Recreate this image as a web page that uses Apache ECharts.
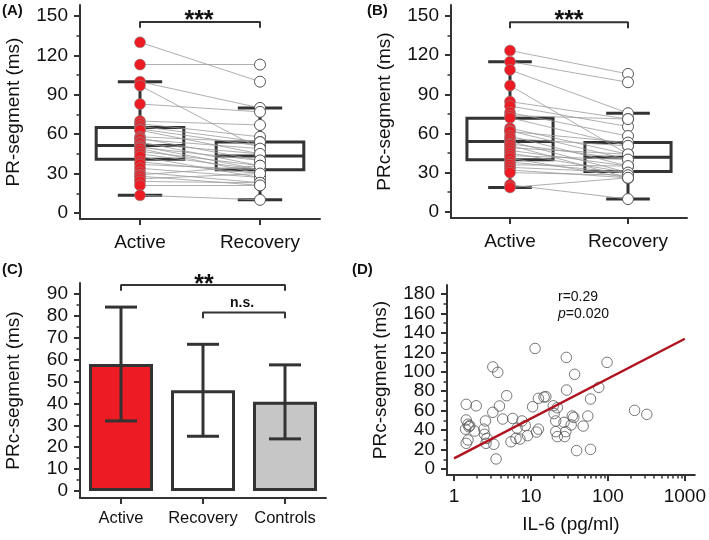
<!DOCTYPE html>
<html><head><meta charset="utf-8">
<script src="https://cdn.jsdelivr.net/npm/echarts@6/dist/echarts.min.js"></script>
<style>html,body{margin:0;padding:0;background:#fff}#c{width:709px;height:540px}</style>
</head><body><div id="c"></div>
<script>
// ---------- DATA ----------
const boxCats = ['Active', 'Recovery'];
// Panel A: paired PR-segment values [Active, Recovery]
const pairsA = [[130,100],[113,113],[100,80],[97,49],[83,77],[70,67],[68,58],[66,54],[64,51],[63,45],[58,54],[57,40],[56,49],[54,36],[53,45],[51,33],[50,40],[49,30],[47,36],[45,33],[43,27],[39,30],[37,33],[34,27],[31,23],[29,36],[28,21],[26,30],[24,23],[21,21],[13.5,10]];
// box stats [min, q1, median, q3, max]
const boxStatsA = [[13.5,41,51.3,65,100],[10,33,43.4,54,80]];
// Panel B: paired PRc-segment values
const pairsB = [[123.5,105.6],[115,99.2],[108.7,75.5],[96.7,44],[84.4,71],[81,65.3],[76,58],[73.7,71],[72,50.5],[64,44],[62,40],[61.5,53],[58,35],[56,50.5],[54,30],[52,40],[51,26],[49,44],[47,35],[45,30],[43,40],[41,26],[38,30],[36,35],[34,30],[32,26],[30,28],[20.6,9.7],[18.6,26]];
const boxStatsB = [[18.6,39.8,53.8,71.7,115],[9.7,30.9,41.8,53,75.5]];
// Panel C
const barCats = ['Active', 'Recovery', 'Controls'];
const barMeans = [58, 46, 40.8];
const barLow = [32, 25, 23.8];
const barHigh = [84, 67, 57.6];
// Panel D: [IL-6, PRc]
const il6Points = [[1.44,66.5],[1.94,65],[1.44,50.4],[1.52,46],[1.56,43.5],[1.41,41],[1.85,39],[1.52,29.8],[1.44,26.4],[1.6,44.5],
[2.56,49.4],[2.44,41],[2.49,35.7],[2.67,31.5],[2.6,26.4],[3.29,25.4],[3.52,10.3],[3.19,105],[3.7,99.4],[3.19,58.3],[3.89,64.8],[4.29,51.4],[4.83,75.4],
[5.5,28],[5.78,52],[6.38,31.5],[6.6,42],[7.19,30.8],[7.63,49.4],[8.43,44.6],[9.03,34.3],[10.5,64],[11.3,124],[11.8,38],[12.5,41],[12.5,72.7],[15.6,74.4],[14.8,74],
[19.5,65],[20,57],[21,49.4],[22,63],[21,38.4],[22,33.3],[26.9,48],[27.4,33.3],[28.3,38.4],[28.8,114.8],[29,81.2],[33.3,45.3],[34.4,54.5],[36,53],[36.9,97.4],[39.2,18.9],[47.7,44.2],[54.8,54.5],[59.4,72],[59.4,20.2],[76,84],[97.5,109.7],[222,60.3],[320,56.2]];
const regLine = [[1, 11], [1000, 134]];
// significance brackets [x0, x1, yTop, yTip]
const bracketA = [0, 1, 145.5, 141];
const bracketB = [0, 1, 145.2, 140.6];
const bracketC1 = [0, 2, 94.1, 91.5];
const bracketC2 = [1, 2, 81.5, 78.9];
// ticks
const ticksAB = [0,30,60,90,120,150];
const minorAB = [15,45,75,105,135];
const ticksC = [0,10,20,30,40,50,60,70,80,90];
const minorC = [5,15,25,35,45,55,65,75,85];
const ticksD = [0,20,40,60,80,100,120,140,160,180];
const minorD = [10,30,50,70,90,110,130,150,170];
const ticksLog = [1,10,100,1000];
const minorLog = [2,3,4,5,6,7,8,9,20,30,40,50,60,70,80,90,200,300,400,500,600,700,800,900];

// ---------- STYLE ----------
const FONT = "'Liberation Sans', Arial, sans-serif";
const DARK = '#333333';
const TXT = '#111111';
const RED = '#ed1c24';
const barColors = [RED, '#ffffff', '#c6c6c6'];

function mainY(grid, min, max, ticks, name, fs) {
  return {
    gridIndex: grid, type: 'value', min: min, max: max, position: 'left',
    name: name, nameLocation: 'middle', nameGap: 57,
    nameTextStyle: {fontSize: 19, color: TXT, fontFamily: FONT},
    axisLine: {show: true, onZero: false, lineStyle: {color: DARK, width: 2}},
    axisTick: {show: true, length: 6, customValues: ticks, lineStyle: {color: DARK, width: 2}},
    axisLabel: {show: true, customValues: ticks, fontSize: fs, color: TXT, fontFamily: FONT, margin: 12},
    splitLine: {show: false}
  };
}
function minorY(grid, min, max, ticks) {
  return {
    gridIndex: grid, type: 'value', min: min, max: max, position: 'left',
    axisLine: {show: false, onZero: false},
    axisTick: {show: true, length: 3.5, customValues: ticks, lineStyle: {color: DARK, width: 1.5}},
    axisLabel: {show: false}, splitLine: {show: false}
  };
}
function catX(grid, cats, fs, margin) {
  return {
    gridIndex: grid, type: 'category', data: cats, boundaryGap: true,
    axisLine: {show: true, onZero: false, lineStyle: {color: DARK, width: 2}},
    axisTick: {show: true, alignWithLabel: true, interval: 0, length: 6, lineStyle: {color: DARK, width: 2}},
    axisLabel: {fontSize: fs, color: TXT, fontFamily: FONT, margin: margin, interval: 0},
    splitLine: {show: false}
  };
}

function boxRender(params, api) {
  const x = api.value(0);
  const band = api.size([1, 0])[0];
  const bw = band * 0.73, cw = band * 0.37;
  const lo = api.coord([x, api.value(1)]);
  const q1 = api.coord([x, api.value(2)]);
  const md = api.coord([x, api.value(3)]);
  const q3 = api.coord([x, api.value(4)]);
  const hi = api.coord([x, api.value(5)]);
  const cx = lo[0];
  const st = {stroke: DARK, lineWidth: 3, fill: null};
  return {type: 'group', children: [
    {type: 'line', shape: {x1: cx, y1: q3[1], x2: cx, y2: hi[1]}, style: st},
    {type: 'line', shape: {x1: cx, y1: q1[1], x2: cx, y2: lo[1]}, style: st},
    {type: 'line', shape: {x1: cx - cw / 2, y1: hi[1], x2: cx + cw / 2, y2: hi[1]}, style: st},
    {type: 'line', shape: {x1: cx - cw / 2, y1: lo[1], x2: cx + cw / 2, y2: lo[1]}, style: st},
    {type: 'rect', shape: {x: cx - bw / 2, y: q3[1], width: bw, height: q1[1] - q3[1]}, style: {stroke: DARK, lineWidth: 3, fill: 'rgba(255,255,255,0)'}},
    {type: 'line', shape: {x1: cx - bw / 2, y1: md[1], x2: cx + bw / 2, y2: md[1]}, style: st}
  ]};
}
function errRender(params, api) {
  const x = api.value(0);
  const band = api.size([1, 0])[0];
  const cw = band * 0.39;
  const lo = api.coord([x, api.value(1)]);
  const hi = api.coord([x, api.value(2)]);
  const cx = lo[0];
  const st = {stroke: DARK, lineWidth: 3};
  return {type: 'group', children: [
    {type: 'line', shape: {x1: cx, y1: lo[1], x2: cx, y2: hi[1]}, style: st},
    {type: 'line', shape: {x1: cx - cw / 2, y1: hi[1], x2: cx + cw / 2, y2: hi[1]}, style: st},
    {type: 'line', shape: {x1: cx - cw / 2, y1: lo[1], x2: cx + cw / 2, y2: lo[1]}, style: st}
  ]};
}
function bracketData(b) {
  return [[b[0], b[3]], [b[0], b[2]], [b[1], b[2]], [b[1], b[3]]];
}
function bracketSeries(xi, yi, b) {
  return {type: 'line', xAxisIndex: xi, yAxisIndex: yi, data: bracketData(b), symbol: 'none',
    lineStyle: {color: DARK, width: 2}, z: 5, silent: true};
}
function pairedSeries(xi, yi, pairs, stats) {
  return [
    {type: 'custom', xAxisIndex: xi, yAxisIndex: yi, renderItem: boxRender,
      data: stats.map((s, i) => [i].concat(s)), encode: {x: 0, y: [1, 2, 3, 4, 5]}, z: 2, silent: true},
    {type: 'lines', coordinateSystem: 'cartesian2d', xAxisIndex: xi, yAxisIndex: yi,
      data: pairs.map(p => ({coords: [[0, p[0]], [1, p[1]]]})),
      lineStyle: {color: '#9a9a9a', width: 0.8, opacity: 1}, z: 3, silent: true},
    {type: 'scatter', xAxisIndex: xi, yAxisIndex: yi, data: pairs.map(p => [0, p[0]]),
      symbolSize: 11, itemStyle: {color: RED, borderColor: '#8a8a8a', borderWidth: 0.6, opacity: 1}, z: 4},
    {type: 'scatter', xAxisIndex: xi, yAxisIndex: yi, data: pairs.map(p => [1, p[1]]),
      symbolSize: 11, itemStyle: {color: '#ffffff', borderColor: '#555555', borderWidth: 1, opacity: 1}, z: 4}
  ];
}

const chart = echarts.init(document.getElementById('c'), null, {renderer: 'canvas'});
const option = {
  animation: false,
  backgroundColor: '#ffffff',
  textStyle: {fontFamily: FONT},
  grid: [
    {left: 80, top: 5, width: 240, height: 214},
    {left: 451, top: 5, width: 236, height: 213},
    {left: 80, top: 283, width: 246, height: 215},
    {left: 447, top: 285, width: 250, height: 190}
  ],
  xAxis: [
    catX(0, boxCats, 19, 14),
    catX(1, boxCats, 19, 14),
    catX(2, barCats, 16.5, 12),
    {gridIndex: 3, type: 'log', logBase: 10, min: 0.81, max: 1346, position: 'bottom',
      name: 'IL-6 (pg/ml)', nameLocation: 'middle', nameGap: 40,
      nameTextStyle: {fontSize: 19, color: TXT, fontFamily: FONT},
      axisLine: {show: true, onZero: false, lineStyle: {color: DARK, width: 2}},
      axisTick: {show: true, length: 6, customValues: ticksLog, lineStyle: {color: DARK, width: 2}},
      axisLabel: {customValues: ticksLog, fontSize: 19, color: TXT, fontFamily: FONT, margin: 12,
        formatter: function (v) { return String(Math.round(v)); }},
      splitLine: {show: false}},
    {gridIndex: 3, type: 'log', logBase: 10, min: 0.81, max: 1346, position: 'bottom',
      axisLine: {show: false, onZero: false},
      axisTick: {show: true, length: 3.5, customValues: minorLog, lineStyle: {color: DARK, width: 1.5}},
      axisLabel: {show: false}, splitLine: {show: false}}
  ],
  yAxis: [
    mainY(0, -4.6, 158.4, ticksAB, 'PR-segment (ms)', 19),
    minorY(0, -4.6, 158.4, minorAB),
    mainY(1, -4.8, 158.4, ticksAB, 'PRc-segment (ms)', 19),
    minorY(1, -4.8, 158.4, minorAB),
    mainY(2, -3.2, 95, ticksC, 'PRc-segment (ms)', 19),
    minorY(2, -3.2, 95, minorC),
    mainY(3, -6.2, 189.3, ticksD, 'PRc-segment (ms)', 19),
    minorY(3, -6.2, 189.3, minorD)
  ],
  series: [].concat(
    pairedSeries(0, 0, pairsA, boxStatsA),
    [bracketSeries(0, 0, bracketA)],
    pairedSeries(1, 2, pairsB, boxStatsB),
    [bracketSeries(1, 2, bracketB)],
    [
      {type: 'bar', xAxisIndex: 2, yAxisIndex: 4, barWidth: 64,
        data: barMeans.map((v, i) => ({value: v, itemStyle: {color: barColors[i]}})),
        itemStyle: {borderColor: DARK, borderWidth: 3}, z: 2},
      {type: 'custom', xAxisIndex: 2, yAxisIndex: 4, renderItem: errRender,
        data: barMeans.map((v, i) => [i, barLow[i], barHigh[i]]), encode: {x: 0, y: [1, 2]}, z: 3, silent: true},
      bracketSeries(2, 4, bracketC1),
      bracketSeries(2, 4, bracketC2),
      {type: 'scatter', xAxisIndex: 3, yAxisIndex: 6, data: il6Points, symbolSize: 10.5,
        itemStyle: {color: 'rgba(255,255,255,0)', borderColor: '#555555', borderWidth: 1}, z: 3},
      {type: 'line', xAxisIndex: 3, yAxisIndex: 6, data: regLine, symbol: 'none',
        lineStyle: {color: '#b01420', width: 2.5}, z: 4, silent: true}
    ]
  ),
  graphic: [
    {type: 'text', left: 2, top: 3, style: {text: '(A)', font: "bold 15px 'Liberation Sans', Arial", fill: TXT}},
    {type: 'text', left: 367, top: 3, style: {text: '(B)', font: "bold 15px 'Liberation Sans', Arial", fill: TXT}},
    {type: 'text', left: 2, top: 262, style: {text: '(C)', font: "bold 15px 'Liberation Sans', Arial", fill: TXT}},
    {type: 'text', left: 352, top: 262, style: {text: '(D)', font: "bold 15px 'Liberation Sans', Arial", fill: TXT}},
    {type: 'text', x: 199, y: 21, style: {text: '***', font: "bold 25px 'Liberation Sans', Arial", fill: TXT, align: 'center', verticalAlign: 'middle'}},
    {type: 'text', x: 569, y: 21, style: {text: '***', font: "bold 25px 'Liberation Sans', Arial", fill: TXT, align: 'center', verticalAlign: 'middle'}},
    {type: 'text', x: 204, y: 285, style: {text: '**', font: "bold 25px 'Liberation Sans', Arial", fill: TXT, align: 'center', verticalAlign: 'middle'}},
    {type: 'text', x: 242, y: 303, style: {text: 'n.s.', font: "bold 14px 'Liberation Sans', Arial", fill: TXT, align: 'center', verticalAlign: 'middle'}},
    {type: 'text', x: 558, y: 297, style: {text: 'r=0.29', font: "14px 'Liberation Sans', Arial", fill: TXT, align: 'left', verticalAlign: 'middle'}},
    {type: 'text', x: 558, y: 314, style: {text: '{i|p}=0.020', font: "14px 'Liberation Sans', Arial", fill: TXT, align: 'left', verticalAlign: 'middle',
      rich: {i: {fontStyle: 'italic', fontSize: 14, fontFamily: FONT, fill: TXT}}}}
  ]
};
chart.setOption(option);
</script></body></html>
